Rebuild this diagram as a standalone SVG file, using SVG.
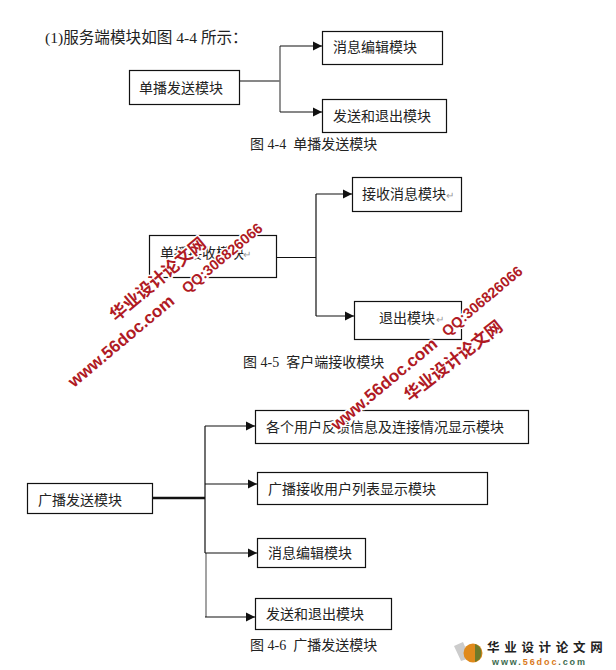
<svg xmlns="http://www.w3.org/2000/svg" width="616" height="670" viewBox="0 0 616 670">
<defs>
<marker id="arr" markerUnits="userSpaceOnUse" markerWidth="10" markerHeight="10" refX="9" refY="5" orient="auto"><path d="M0 0.5L9 5L0 9.500Z" fill="#111"/></marker>
</defs>
<style>
text{font-family:"Liberation Serif","Noto Sans CJK SC",sans-serif;font-size:14px;fill:#222;white-space:pre}
.box{fill:#fff;stroke:#111;stroke-width:1.200}
.line{fill:none;stroke:#111;stroke-width:1.200}
.ret{fill:#999;font-size:10px}
.wm{fill:#b01a24;font-family:"Liberation Sans","Noto Sans CJK SC",sans-serif;font-weight:700;stroke:#fff;stroke-width:3px;paint-order:stroke}
</style>
<rect width="616" height="670" fill="#fff"/>
<text x="45" y="43" style="font-size:15.600px">(1)服务端模块如图 4-4 所示：</text>
<g id="connectors">
<path class="line" d="M240 81H280"/>
<path class="line" d="M280 46V112" style="stroke:#777;stroke-width:1.600"/>
<path class="line" d="M280 46H322" marker-end="url(#arr)"/>
<path class="line" d="M280 112H322" marker-end="url(#arr)"/>
<path class="line" d="M277 257.500H316"/>
<path class="line" d="M316 194V316"/>
<path class="line" d="M316 194H352" marker-end="url(#arr)"/>
<path class="line" d="M316 316H354" marker-end="url(#arr)"/>
<path class="line" d="M153 498H205" style="stroke-width:2.400"/>
<path class="line" d="M205 426V553"/>
<path class="line" d="M206 553V617" style="stroke:#666"/>
<path class="line" d="M205 426H255" marker-end="url(#arr)"/>
<path class="line" d="M205 484H257" marker-end="url(#arr)"/>
<path class="line" d="M205 553H257" marker-end="url(#arr)"/>
<path class="line" d="M205 617H255" marker-end="url(#arr)"/>
</g>
<g id="n1"><rect class="box" x="129.500" y="70.500" width="110" height="34"/><text x="139" y="93">单播发送模块</text></g>
<g id="n2"><rect class="box" x="322.500" y="31.500" width="120" height="33"/><text x="333" y="52">消息编辑模块</text></g>
<g id="n3"><rect class="box" x="322.500" y="99.500" width="124" height="33"/><text x="333" y="121">发送和退出模块</text></g>
<text id="cap1" x="250" y="149">图 4-4  单播发送模块</text>
<g id="n4"><rect class="box" x="149.500" y="235.500" width="127" height="42"/><text x="160" y="258">单播接收模块</text><text class="ret" x="243" y="258">↵</text></g>
<g id="n5"><rect class="box" x="352.500" y="177.500" width="109" height="34"/><text x="362" y="199">接收消息模块</text><text class="ret" x="446" y="199">↵</text></g>
<g id="n6"><rect class="box" x="354.500" y="301.500" width="107" height="38"/><text x="379" y="323">退出模块</text><text class="ret" x="436" y="323">↵</text></g>
<text id="cap2" x="243" y="367">图 4-5  客户端接收模块</text>
<g id="n7"><rect class="box" x="255.500" y="410.500" width="273" height="33"/><text x="266" y="432">各个用户反馈信息及连接情况显示模块</text></g>
<g id="n8"><rect class="box" x="257.500" y="472.500" width="230" height="32"/><text x="268" y="494">广播接收用户列表显示模块</text></g>
<g id="n9"><rect class="box" x="257.500" y="538.500" width="108" height="29"/><text x="268" y="558">消息编辑模块</text></g>
<g id="n10"><rect class="box" x="255.500" y="598.500" width="136" height="31"/><text x="266" y="619">发送和退出模块</text></g>
<g id="n11"><rect class="box" x="27.500" y="483.500" width="125" height="30"/><text x="38" y="505">广播发送模块</text></g>
<text id="cap3" x="250" y="650">图 4-6  广播发送模块</text>
<g id="watermark">
<text class="wm" transform="translate(116 322) rotate(-40)" style="font-size:17px">华业设计论文网</text>
<text class="wm" transform="translate(74 388) rotate(-40)" style="font-size:17px">www.56doc.com</text>
<text class="wm" transform="translate(187 294) rotate(-40)" style="font-size:14.500px">QQ:306826066</text>
<text class="wm" transform="translate(410 402) rotate(-38)" style="font-size:17px">华业设计论文网</text>
<text class="wm" transform="translate(337 431) rotate(-40)" style="font-size:17px">www.56doc.com</text>
<text class="wm" transform="translate(447 337) rotate(-40)" style="font-size:14.500px">QQ:306826066</text>
</g>
<g id="logo">
<path d="M454 646L463 642L470 658L461 661Z" fill="#ccc"/>
<circle cx="473" cy="653" r="9.500" fill="#e08a1c"/>
<path d="M475 644A9.500 9.500 0 0 1 475 662Z" fill="#6f7a2a"/>
<text x="487" y="652" style="font-family:'Noto Sans CJK SC',sans-serif;font-size:12.500px;font-weight:700;letter-spacing:4.700px;fill:#222">华业设计论文网</text>
<text x="492" y="665" style="font-family:'Liberation Sans',sans-serif;font-size:9px;font-weight:700;letter-spacing:1.900px;fill:#3d6b4f">www.<tspan fill="#d9791a">56doc</tspan>.com</text>
</g>
</svg>
